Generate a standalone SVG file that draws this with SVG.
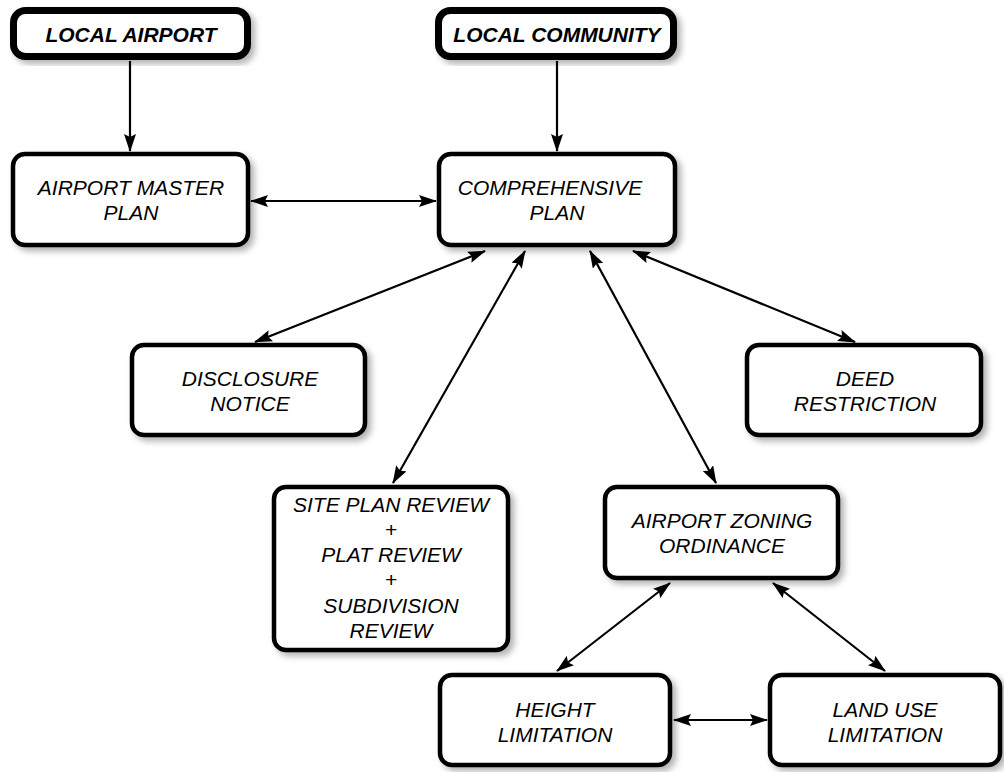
<svg xmlns="http://www.w3.org/2000/svg" width="1004" height="772" viewBox="0 0 1004 772">
<style>
.box{fill:#fff;stroke:#000;stroke-width:4.5;filter:url(#sh)}
.top{fill:#fff;stroke:#000;stroke-width:7;filter:url(#sh)}
.t{font-family:"Liberation Sans",Arial,sans-serif;font-style:italic;font-size:21px;text-anchor:middle;fill:#000}
.tb{font-family:"Liberation Sans",Arial,sans-serif;font-style:italic;font-weight:bold;font-size:21px;text-anchor:middle;fill:#000}
.c{stroke:#000;stroke-width:2.2;fill:none;marker-end:url(#ah)}
.d{marker-start:url(#ahs)}
</style>
<defs>
<filter id="sh" x="-10%" y="-10%" width="130%" height="130%">
<feDropShadow dx="4" dy="4" stdDeviation="3" flood-color="#000" flood-opacity="0.3"/>
</filter>
<marker id="ah" viewBox="0 0 18 12" refX="17" refY="6" markerWidth="18" markerHeight="12" markerUnits="userSpaceOnUse" orient="auto">
<path d="M0,0 L18,6 L0,12 L3,6 z" fill="#000"/>
</marker>
<marker id="ahs" viewBox="0 0 18 12" refX="1" refY="6" markerWidth="18" markerHeight="12" markerUnits="userSpaceOnUse" orient="auto">
<path d="M18,0 L0,6 L18,12 L15,6 z" fill="#000"/>
</marker>
</defs>
<rect width="1004" height="772" fill="#fff"/>
<g id="connectors">
<line class="c" x1="130" y1="61" x2="130" y2="151"/>
<line class="c" x1="557" y1="61" x2="557" y2="151"/>
<line class="c d" x1="251" y1="201" x2="436" y2="201"/>
<line class="c d" x1="485" y1="251" x2="255" y2="342"/>
<line class="c d" x1="525" y1="251" x2="393" y2="483"/>
<line class="c d" x1="590" y1="251" x2="716" y2="483"/>
<line class="c d" x1="633" y1="251" x2="855" y2="342"/>
<line class="c d" x1="670" y1="583" x2="557" y2="671"/>
<line class="c d" x1="773" y1="583" x2="885" y2="671"/>
<line class="c d" x1="674" y1="720" x2="767" y2="720"/>
</g>
<g id="local-airport">
<rect class="top" x="13.5" y="10.5" width="234" height="46" rx="12"/>
<text class="tb" x="131" y="42">LOCAL AIRPORT</text>
</g>
<g id="local-community">
<rect class="top" x="438.5" y="10.5" width="235" height="46" rx="12"/>
<text class="tb" x="557" y="42">LOCAL COMMUNITY</text>
</g>
<g id="airport-master-plan">
<rect class="box" x="13" y="154" width="235" height="91" rx="12"/>
<text class="t" x="131" y="195">AIRPORT MASTER</text>
<text class="t" x="131" y="220">PLAN</text>
</g>
<g id="comprehensive-plan">
<rect class="box" x="439" y="154" width="236" height="91" rx="12"/>
<text class="t" x="550" y="195">COMPREHENSIVE</text>
<text class="t" x="557" y="220">PLAN</text>
</g>
<g id="disclosure-notice">
<rect class="box" x="132" y="345" width="233" height="90" rx="12"/>
<text class="t" x="250" y="386">DISCLOSURE</text>
<text class="t" x="250" y="411">NOTICE</text>
</g>
<g id="deed-restriction">
<rect class="box" x="747" y="345" width="234" height="90" rx="12"/>
<text class="t" x="865" y="386">DEED</text>
<text class="t" x="865" y="411">RESTRICTION</text>
</g>
<g id="site-plan-review">
<rect class="box" x="274" y="487" width="234" height="163" rx="12"/>
<text class="t" x="391" y="512">SITE PLAN REVIEW</text>
<text class="t" x="391" y="537">+</text>
<text class="t" x="391" y="562">PLAT REVIEW</text>
<text class="t" x="391" y="587">+</text>
<text class="t" x="391" y="613">SUBDIVISION</text>
<text class="t" x="391" y="638">REVIEW</text>
</g>
<g id="airport-zoning-ordinance">
<rect class="box" x="605" y="487" width="233" height="91" rx="12"/>
<text class="t" x="722" y="528">AIRPORT ZONING</text>
<text class="t" x="722" y="553">ORDINANCE</text>
</g>
<g id="height-limitation">
<rect class="box" x="440" y="675" width="230" height="90" rx="12"/>
<text class="t" x="555" y="717">HEIGHT</text>
<text class="t" x="555" y="742">LIMITATION</text>
</g>
<g id="land-use-limitation">
<rect class="box" x="770" y="675" width="230" height="90" rx="12"/>
<text class="t" x="885" y="717">LAND USE</text>
<text class="t" x="885" y="742">LIMITATION</text>
</g>
</svg>
